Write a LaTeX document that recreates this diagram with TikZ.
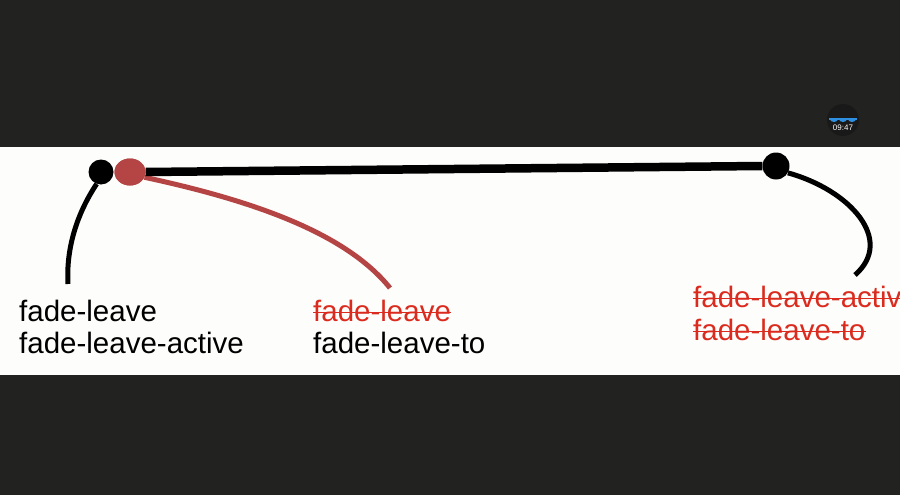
\documentclass[tikz,border=0pt]{standalone}
\usepackage{fontspec}
\setmainfont{Liberation Sans}
\usetikzlibrary{shapes.geometric}
\begin{document}
\begin{tikzpicture}[x=1pt,y=-1pt,
  lbl/.style={inner sep=0pt,anchor=base west,font=\fontsize{29.5}{32}\selectfont},
  redlbl/.style={lbl,text=txtred},
  dot/.style={circle,fill=black,inner sep=0pt,minimum size=25pt},
  reddot/.style={ellipse,fill=dotred,inner sep=0pt,minimum width=31pt,minimum height=27pt},
  strike/.style={txtred,line width=1.8pt}]
\definecolor{bgdark}{HTML}{222320}
\definecolor{paper}{HTML}{FDFDFB}
\definecolor{dotred}{HTML}{B54545}
\definecolor{txtred}{HTML}{DB2B1E}
\definecolor{wave}{HTML}{2E8FE0}
\useasboundingbox (0,0) rectangle (900,495);
\clip (0,0) rectangle (900,495);
\fill[bgdark] (0,0) rectangle (900,495);
\fill[paper] (0,147) rectangle (900,375);
% clock badge
\node[circle,fill=black!90,inner sep=0pt,minimum size=32pt] (clk) at (843,120) {};
\foreach \cx in {834,843,852}{\fill[wave] (\cx-4,119) arc(180:0:4 and 3) -- cycle;}
\draw[wave,line width=1.2pt] (829,119) -- (857,119);
\node[text=white,inner sep=0pt,font=\fontsize{8}{9}\selectfont] (clktxt) at (843,127.5) {09:47};
% dots
\node[dot] (a) at (101,172) {};
\node[reddot] (r) at (130,172) {};
\node[dot,minimum size=27pt] (c) at (776,166) {};
\coordinate (aend) at (68,284);
\coordinate (rend) at (390,288);
\coordinate (cend) at (855,275);
% connectors
\draw[line width=5pt,dotred] (r.-20) .. controls (250,200) and (345,232) .. (rend);
\draw[line width=8.5pt] (r.east) -- (c.west);
\node[reddot] (r2) at (130,172) {};
\draw[line width=5pt] (a.-110) .. controls (76,215) and (66,250) .. (aend);
\draw[line width=5pt] (c.-30) .. controls (850,190) and (895,240) .. (cend);
% labels
\node[lbl] (t1) at (19,321) {fade-leave};
\node[lbl] (t2) at (19,353) {fade-leave-active};
\node[redlbl] (t3) at (313,321) {fade-leave};
\node[lbl] (t4) at (313,353) {fade-leave-to};
\node[redlbl] (t5) at (693,307) {fade-leave-activ};
\node[redlbl] (t6) at (693,340) {fade-leave-to};
\draw[strike] ([yshift=8.5pt]t3.base west) -- ([yshift=8.5pt]t3.base east);
\draw[strike] ([yshift=8.5pt]t5.base west) -- ([yshift=8.5pt]t5.base east);
\draw[strike] ([yshift=8.5pt]t6.base west) -- ([yshift=8.5pt]t6.base east);
\end{tikzpicture}
\end{document}
